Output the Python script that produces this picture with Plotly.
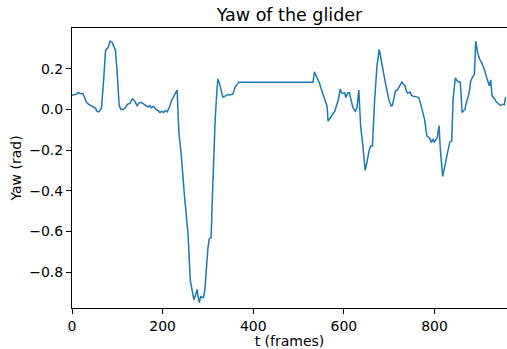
import plotly.graph_objects as go

frames = [0, 5, 10, 13, 18, 24, 28, 32, 37, 43, 48, 52, 55, 59, 62, 65, 70, 74, 80, 84,
          88, 92, 96, 100, 104, 108, 113, 118, 122, 128, 133, 137, 141, 144, 148, 152, 156, 160, 164, 168,
          172, 175, 180, 185, 190, 194, 198, 202, 206, 210, 215, 220, 226, 232, 236, 241, 248, 256, 261, 265,
          269, 273, 276, 279, 281, 284, 290, 293, 296, 300, 303, 307, 310, 313, 316, 320, 322, 325, 330, 333,
          338, 343, 350, 355, 360, 364, 368, 532, 535, 540, 546, 550, 554, 558, 563, 565, 570, 574, 580, 584,
          588, 592, 595, 600, 602, 604, 607, 609, 612, 616, 620, 625, 629, 633, 637, 642, 647, 650, 653, 656,
          659, 663, 668, 673, 678, 682, 686, 690, 693, 699, 704, 707, 711, 714, 718, 723, 728, 731, 735, 738,
          741, 746, 749, 752, 757, 765, 769, 773, 778, 783, 789, 793, 796, 799, 802, 806, 810, 813, 818, 822,
          826, 830, 834, 838, 841, 846, 850, 857, 861, 867, 871, 876, 880, 884, 888, 891, 895, 900, 904, 907,
          911, 915, 921, 924, 927, 933, 937, 941, 945, 950, 954, 957]

yaw = [0.07, 0.072, 0.075, 0.083, 0.078, 0.078, 0.06, 0.035, 0.025, 0.018, 0.012, 0.005, -0.01, -0.012, -0.003, 0.006, 0.15, 0.29, 0.305, 0.335,
       0.332, 0.31, 0.29, 0.17, 0.02, 0.0, 0.0, 0.008, 0.025, 0.03, 0.052, 0.045, 0.033, 0.018, 0.032, 0.035, 0.03, 0.025, 0.02, 0.012,
       0.02, 0.008, 0.015, 0.0, -0.005, -0.015, -0.01, -0.015, -0.005, -0.012, 0.01, 0.045, 0.07, 0.095, -0.12, -0.22, -0.42, -0.61, -0.84, -0.9,
       -0.935, -0.91, -0.885, -0.93, -0.95, -0.92, -0.925, -0.89, -0.78, -0.68, -0.635, -0.63, -0.42, -0.2, -0.05, 0.1, 0.15, 0.13, 0.09, 0.06,
       0.065, 0.072, 0.072, 0.075, 0.11, 0.125, 0.134, 0.134, 0.185, 0.16, 0.13, 0.1, 0.075, 0.045, 0.016, -0.058, -0.04, -0.03, -0.009, 0.02,
       0.05, 0.1, 0.08, 0.08, 0.082, 0.058, 0.07, 0.082, 0.082, 0.045, 0.008, -0.009, 0.008, 0.095, -0.083, -0.18, -0.3, -0.27, -0.23, -0.2,
       -0.18, -0.18, 0.049, 0.213, 0.295, 0.24, 0.2, 0.15, 0.116, 0.05, 0.018, 0.02, 0.06, 0.092, 0.095, 0.115, 0.135, 0.124, 0.115, 0.09,
       0.08, 0.085, 0.07, 0.065, 0.062, 0.059, 0.03, -0.007, -0.048, -0.13, -0.14, -0.163, -0.145, -0.16, -0.15, -0.14, -0.08, -0.2, -0.33, -0.28,
       -0.24, -0.2, -0.16, -0.155, 0.05, 0.155, 0.14, 0.132, -0.015, 0.0, 0.04, 0.075, 0.14, 0.16, 0.17, 0.335, 0.28, 0.245, 0.23, 0.215,
       0.19, 0.157, 0.116, 0.145, 0.067, 0.05, 0.035, 0.029, 0.02, 0.025, 0.023, 0.06]

x_ticks = [0, 200, 400, 600, 800]
y_ticks = [0.2, 0.0, -0.2, -0.4, -0.6, -0.8]
y_tick_labels = ["0.2", "0.0", "\u22120.2", "\u22120.4", "\u22120.6", "\u22120.8"]

font = "DejaVu Sans"

fig = go.Figure()
fig.add_trace(go.Scatter(x=frames, y=yaw, mode="lines",
                         line=dict(color="#1f77b4", width=1.5)))

fig.update_layout(
    width=507, height=349,
    margin=dict(l=72, r=0, t=28, b=41),
    paper_bgcolor="white", plot_bgcolor="white",
    showlegend=False,
    font=dict(family=font, size=14, color="black"),
    title=dict(text="Yaw of the glider", x=0.5, xref="paper", xanchor="center",
               y=1 - 15 / 349, yref="container", yanchor="middle",
               font=dict(family=font, size=17.5, color="black")),
)
fig.update_xaxes(range=[0, 960], tickvals=x_ticks, ticks="outside", ticklen=5,
                 tickcolor="black", showline=True, linecolor="black", linewidth=1,
                 mirror=True, showgrid=False, zeroline=False,
                 title=dict(text="t (frames)", standoff=4, font=dict(size=14)))
fig.update_yaxes(range=[-0.976, 0.40], tickvals=y_ticks, ticktext=y_tick_labels,
                 ticks="outside", ticklen=5, tickcolor="black",
                 showline=True, linecolor="black", linewidth=1,
                 showgrid=False, zeroline=False,
                 title=dict(text="Yaw (rad)", standoff=4, font=dict(size=14)))

fig.write_html("out.html")
